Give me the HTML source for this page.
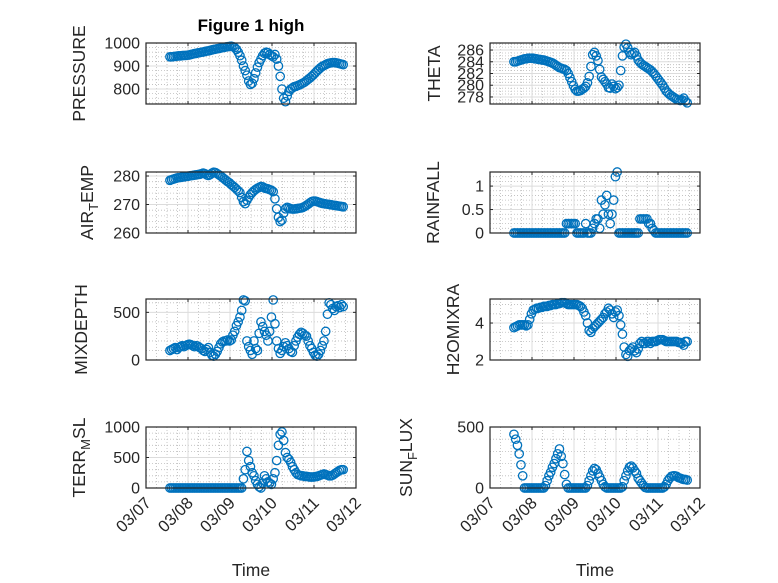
<!DOCTYPE html>
<html><head><meta charset="utf-8"><style>
html,body{margin:0;padding:0;background:#fff;}
svg{display:block;font-family:"Liberation Sans","DejaVu Sans",sans-serif;}
</style></head><body>
<svg id="fig" width="778" height="583" viewBox="0 0 778 583">
<rect width="778" height="583" fill="#fff"/>
<text x="251" y="31" text-anchor="middle" font-size="17" font-weight="bold" fill="#000">Figure 1 high</text>
</svg>
<script>
const xTickLabels = ["03/07","03/08","03/09","03/10","03/11","03/12"];
const pressure = [940,940,941,942,943,944,944,945,946,946,947,
948,950,952,954,955,957,958,960,961,963,965,966,968,970,972,973,975,976,978,980,981,983,984,985,
986,984,980,972,960,945,925,900,880,860,835,820,825,
845,870,895,915,930,945,955,960,958,950,945,940,950,
930,900,855,800,760,745,770,790,800,805,810,
812,815,818,822,826,830,836,842,848,855,862,870,878,885,892,898,902,906,910,912,914,915,915,914,912,910,908,906];
const theta = [284.0,284.0,284.1,284.2,284.3,284.4,284.5,284.5,284.6,284.6,284.6,
284.6,284.5,284.5,284.4,284.4,284.3,284.3,284.2,284.1,284.0,283.9,283.8,283.6,283.4,283.2,283.0,282.9,282.8,282.7,282.5,282.0,281.3,280.6,279.9,
279.3,279.0,279.0,279.1,279.3,279.5,279.8,280.4,281.5,283.2,285.2,285.6,285.0,
284.2,282.7,281.4,281.0,280.6,280.2,279.6,279.5,280.2,279.8,279.4,279.6,280.0,
282.5,285.0,286.5,287.0,286.4,285.6,285.2,285.4,285.6,285.0,284.3,
283.9,283.6,283.4,283.2,283.0,282.8,282.6,282.3,282.0,281.6,281.2,280.8,280.4,280.0,279.5,279.0,278.7,278.4,278.2,278.0,277.8,277.6,277.5,277.4,277.5,277.8,277.3,277.0];
const airTemp = [278.5,278.7,278.9,279.1,279.3,279.4,279.5,279.6,279.7,279.8,279.9,
280.0,280.1,280.2,280.3,280.4,280.5,280.6,280.8,281.0,280.8,280.4,280.2,280.5,281.0,281.3,281.2,280.8,280.4,280.0,279.5,279.0,278.5,278.0,277.6,
277.0,276.5,276.0,275.4,274.8,274.2,272.5,271.0,270.3,271.5,272.5,273.5,274.2,
274.8,275.3,275.7,276.0,276.3,276.2,275.8,275.6,275.5,275.2,275.0,274.5,272.0,
268.5,265.5,264.0,264.5,267.0,268.5,269.0,268.8,268.5,268.4,268.4,
268.5,268.6,268.7,268.8,269.0,269.3,269.7,270.1,270.6,271.0,271.2,271.2,271.0,270.8,270.6,270.4,270.3,270.2,270.1,270.0,269.9,269.8,269.7,269.6,269.5,269.4,269.3,269.2];
const rainfall = [0,0,0,0,0,0,0,0,0,0,0,
0,0,0,0,0,0,0,0,0,0,0,0,0,0,0,0,0,0,0,0.2,0.2,0.2,0.2,0.2,
0.2,0,0,0,0,0,0.2,0,0,0,0.1,0.2,0.3,
0.3,0.1,0.7,0.4,0.6,0.8,0.4,0.2,0.4,0.7,1.2,1.3,0,
0,0,0,0,0,0,0,0,0,0,0,
0.3,0.3,0.3,0.3,0.3,0.2,0.2,0.1,0.05,0,0,0,0,0,0,0,0,0,0,0,0,0,0,0,0,0,0,0];
const mixDepth = [100,110,120,130,110,130,140,150,140,150,160,
165,160,150,140,150,145,130,120,100,90,110,130,80,50,40,60,90,130,170,190,200,200,210,200,
210,260,300,360,400,450,520,630,620,200,140,100,60,
200,120,100,280,400,350,300,260,200,300,450,630,380,
200,120,70,100,140,180,150,120,90,80,150,
200,240,270,290,280,260,250,200,150,120,80,50,40,60,100,150,200,300,480,600,580,540,520,560,570,550,580,560];
const h2oMix = [3.75,3.8,3.85,3.9,3.9,3.9,3.9,3.85,3.9,4.2,4.5,
4.7,4.75,4.8,4.8,4.85,4.85,4.9,4.9,4.9,4.95,4.95,5.0,5.0,5.0,5.05,5.05,5.1,5.1,5.1,5.05,5.0,5.0,5.0,5.0,
5.0,5.0,4.95,4.9,4.8,4.6,4.4,4.0,3.6,3.5,3.7,3.8,3.9,
4.0,4.1,4.2,4.3,4.5,4.6,4.8,4.7,4.5,4.3,4.6,4.7,4.4,
3.9,3.4,2.7,2.3,2.2,2.5,2.6,2.7,2.5,2.4,2.6,
2.9,3.0,2.9,2.9,3.0,3.0,2.9,3.0,3.0,3.0,3.05,3.1,3.1,3.1,3.05,3.0,3.0,3.0,3.0,3.0,3.0,3.0,2.95,2.95,2.9,2.8,3.0,3.0];
const terrMsl = [0,0,0,0,0,0,0,0,0,0,0,
0,0,0,0,0,0,0,0,0,0,0,0,0,0,0,0,0,0,0,0,0,0,0,0,
0,0,0,0,0,0,0,150,300,600,450,350,250,
200,120,60,20,0,80,200,150,100,80,60,150,250,
450,700,880,920,780,580,500,470,420,350,300,
250,220,210,200,200,190,190,185,180,180,180,185,190,200,210,220,230,220,210,200,200,210,230,250,270,290,300,300];
const sunFlux = [440,400,350,280,190,100,0,0,0,0,0,
0,0,0,0,0,0,0,20,60,100,130,170,200,240,280,320,260,200,110,30,0,0,0,0,
0,0,0,0,0,0,0,20,60,100,140,160,150,
120,90,60,30,10,0,0,0,0,0,0,0,0,
0,10,60,100,140,170,180,165,140,120,80,
60,40,20,5,0,0,0,0,0,0,0,0,0,0,10,30,60,80,95,100,100,95,85,80,75,70,70,65];
const startDay = 0.57, stepDay = 1/24;

const NS = "http://www.w3.org/2000/svg";
const svg = document.getElementById('fig');
function mk(tag, attrs, parent){const e=document.createElementNS(NS,tag);for(const k in attrs)e.setAttribute(k,attrs[k]);(parent||svg).appendChild(e);return e;}

const panels = [
 {name:"pressure", data:pressure, x0:146, y0:43, ymin:735, ymax:1000, ticks:[800,900,1000], minor:20, lbl:["PRESSURE"], lx:78, bottom:false},
 {name:"theta", data:theta, x0:490, y0:43, ymin:276.8, ymax:287.2, ticks:[278,280,282,284,286], minor:0.5, lbl:["THETA"], lx:433, bottom:false},
 {name:"air-temp", data:airTemp, x0:146, y0:172, ymin:260, ymax:281.4, ticks:[260,270,280], minor:2, lbl:["AIR","T","EMP"], lx:86, bottom:false},
 {name:"rainfall", data:rainfall, x0:490, y0:172, ymin:0, ymax:1.3, ticks:[0,0.5,1], minor:0.1, lbl:["RAINFALL"], lx:432, bottom:false},
 {name:"mixdepth", data:mixDepth, x0:146, y0:299, ymin:0, ymax:640, ticks:[0,500], minor:100, lbl:["MIXDEPTH"], lx:80, bottom:false},
 {name:"h2omixra", data:h2oMix, x0:490, y0:299, ymin:2, ymax:5.3, ticks:[2,4], minor:0.5, lbl:["H2OMIXRA"], lx:452, bottom:false},
 {name:"terr-msl", data:terrMsl, x0:146, y0:427, ymin:0, ymax:1000, ticks:[0,500,1000], minor:100, lbl:["TERR","M","SL"], lx:78, bottom:true},
 {name:"sun-flux", data:sunFlux, x0:490, y0:427, ymin:0, ymax:500, ticks:[0,500], minor:100, lbl:["SUN","F","LUX"], lx:405, bottom:true}
];
const W=210, H=61;

panels.forEach(p=>{
 const g = mk('g',{});
 
 
 const xs = d => p.x0 + d/5*W;
 const ys = v => p.y0 + H - (v-p.ymin)/(p.ymax-p.ymin)*H;
 mk('rect',{x:p.x0,y:p.y0,width:W,height:H,fill:'#fff'},g);
 for(let d=0; d<=5.001; d+=0.25){ if(Math.abs(d-Math.round(d))<1e-6) continue;
  mk('line',{x1:xs(d),x2:xs(d),y1:p.y0,y2:p.y0+H,stroke:'#bbb','stroke-width':0.8,'stroke-dasharray':'1,2'},g);}
 for(let v=Math.ceil(p.ymin/p.minor)*p.minor; v<=p.ymax+1e-9; v+=p.minor){
  if(p.ticks.some(t=>Math.abs(t-v)<1e-6)) continue;
  mk('line',{x1:p.x0,x2:p.x0+W,y1:ys(v),y2:ys(v),stroke:'#bbb','stroke-width':0.8,'stroke-dasharray':'1,2'},g);}
 for(let d=1; d<5; d++) mk('line',{x1:xs(d),x2:xs(d),y1:p.y0,y2:p.y0+H,stroke:'#dcdcdc','stroke-width':1},g);
 p.ticks.forEach(t=>{ mk('line',{x1:p.x0,x2:p.x0+W,y1:ys(t),y2:ys(t),stroke:'#dcdcdc','stroke-width':1},g);
  mk('line',{x1:p.x0,x2:p.x0+3,y1:ys(t),y2:ys(t),stroke:'#262626','stroke-width':1},g);
  mk('line',{x1:p.x0+W,x2:p.x0+W-3,y1:ys(t),y2:ys(t),stroke:'#262626','stroke-width':1},g);
  const tl = mk('text',{x:p.x0-6,y:ys(t)+5.5,'text-anchor':'end','font-size':16,fill:'#262626'},g);
  tl.textContent = String(t);
  
  
 });
 for(let d=0; d<=5; d++){
  mk('line',{x1:xs(d),x2:xs(d),y1:p.y0+H,y2:p.y0+H-3,stroke:'#262626','stroke-width':1},g);
  mk('line',{x1:xs(d),x2:xs(d),y1:p.y0,y2:p.y0+3,stroke:'#262626','stroke-width':1},g);
  if(p.bottom){
   const tx = mk('text',{x:0,y:0,'text-anchor':'end','font-size':16.5,fill:'#262626',transform:`translate(${xs(d)+6},${p.y0+H+16}) rotate(-45)`},g);
   tx.textContent = xTickLabels[d];
   
   
  }
 }
 p.data.forEach((v,i)=>{
  const c = mk('circle',{cx:xs(startDay+i*stepDay),cy:ys(v),r:4.2,fill:'none',stroke:'#0072BD','stroke-width':1.3},g);
  
  
 });
 mk('rect',{x:p.x0,y:p.y0,width:W,height:H,fill:'none',stroke:'#262626','stroke-width':1.2},g);
 const yl = mk('text',{x:0,y:0,'text-anchor':'middle','font-size':17.5,fill:'#262626',transform:`translate(${p.lx+7},${p.y0+H/2}) rotate(-90)`},g);
 
 
 if(p.lbl.length===1){ yl.textContent=p.lbl[0]; }
 else {
  const a=mk('tspan',{},yl); a.textContent=p.lbl[0];
  const b=mk('tspan',{dy:5,'font-size':13},yl); b.textContent=p.lbl[1];
  const c=mk('tspan',{dy:-5},yl); c.textContent=p.lbl[2];
 }
 if(p.bottom){
  const xl = mk('text',{x:p.x0+W/2,y:576,'text-anchor':'middle','font-size':17.5,fill:'#262626'},g);
  xl.textContent='Time';
  
  
 }
});
</script>
</body></html>
